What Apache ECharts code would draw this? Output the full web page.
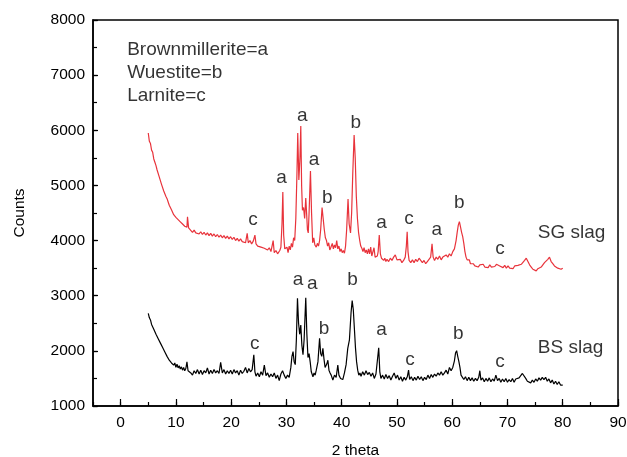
<!DOCTYPE html>
<html>
<head>
<meta charset="utf-8">
<script src="https://cdn.jsdelivr.net/npm/echarts@6/dist/echarts.min.js"></script>
<style>html,body{margin:0;padding:0;background:#fff}#c{width:627px;height:457px}</style>
</head>
<body>
<div id="c"></div>
<script>
var xTicks = [0, 10, 20, 30, 40, 50, 60, 70, 80, 90];
var yTicks = [1000, 2000, 3000, 4000, 5000, 6000, 7000, 8000];

var sgData = [
[5.0,5950],[5.2,5800],[5.4,5760],[5.6,5640],[5.8,5600],[6.0,5480],[6.2,5420],[6.4,5360],[6.6,5280],[6.8,5250],
[7.0,5150],[7.2,5120],[7.4,5020],[7.6,4990],[7.8,4900],[8.0,4880],[8.2,4800],[8.4,4760],[8.6,4700],[8.8,4640],
[9.0,4610],[9.2,4560],[9.4,4540],[9.6,4470],[9.8,4480],[10.0,4420],[10.2,4440],[10.4,4380],[10.6,4400],[10.8,4340],
[11.0,4350],[11.2,4300],[11.4,4320],[11.6,4260],[11.8,4280],[12.0,4240],[12.1,4430],[12.3,4230],[12.6,4200],
[13.0,4150],[13.3,4190],[13.6,4140],[13.9,4170],[14.2,4120],[14.5,4160],[14.8,4110],[15.1,4150],[15.4,4100],[15.7,4140],
[16.0,4090],[16.3,4130],[16.6,4080],[16.9,4120],[17.2,4070],[17.5,4110],[17.8,4060],[18.1,4100],[18.4,4050],[18.7,4090],
[19.0,4040],[19.3,4080],[19.6,4030],[19.9,4070],[20.2,4020],[20.5,4060],[20.8,4000],[21.1,4040],[21.4,3990],[21.7,4030],
[22.0,3980],[22.3,4010],[22.6,3960],[22.9,4130],[23.1,3960],[23.4,4000],[23.7,3940],[24.0,3990],[24.3,4100],[24.5,3940],
[24.8,3900],[25.1,3930],[25.4,3880],[25.7,3910],[26.0,3860],[26.3,3890],[26.6,3830],[26.9,3870],[27.2,3800],[27.6,4000],
[27.8,3780],[28.1,3820],[28.4,3760],[28.8,3820],[29.0,3880],[29.2,4300],[29.35,4880],[29.5,4100],[29.7,3850],[29.9,3820],
[30.1,3880],[30.3,3780],[30.5,3900],[30.7,3830],[30.9,3950],[31.1,3880],[31.3,4050],[31.5,4000],[31.7,4400],[31.9,5200],
[32.05,5950],[32.25,5100],[32.45,5500],[32.6,6078],[32.75,5000],[32.9,4550],[33.1,4600],[33.3,4400],[33.5,4770],[33.65,4500],
[33.8,4200],[33.95,4140],[34.1,4500],[34.35,5260],[34.55,4500],[34.75,3960],[34.95,4050],[35.15,3920],[35.4,3880],[35.6,3950],
[35.8,3900],[36.0,4000],[36.2,4200],[36.45,4600],[36.65,4400],[36.85,4200],[37.05,4050],[37.25,4000],[37.45,3900],[37.65,3960],
[37.85,3830],[38.05,3880],[38.3,3950],[38.5,3850],[38.7,3920],[38.9,3870],[39.1,4000],[39.3,3850],[39.5,3900],[39.7,3800],
[39.9,3850],[40.1,3780],[40.3,3820],[40.5,3770],[40.7,3900],[40.9,4200],[41.15,4754],[41.35,4300],[41.6,4140],[41.8,4500],
[42.0,5200],[42.25,5915],[42.45,5500],[42.65,4800],[42.85,4400],[43.05,4150],[43.25,4010],[43.45,3900],[43.65,3860],[43.85,3800],
[44.05,3870],[44.25,3780],[44.45,3830],[44.65,3760],[44.85,3850],[45.05,3760],[45.25,3880],[45.45,3720],[45.65,3700],[45.85,3870],
[46.05,3700],[46.25,3680],[46.45,3720],[46.6,3800],[46.8,4100],[47.0,3760],[47.2,3680],[47.4,3700],[47.6,3640],[47.8,3680],
[48.0,3620],[48.2,3660],[48.5,3620],[48.8,3680],[49.1,3640],[49.4,3700],[49.7,3740],[50.0,3650],[50.3,3620],[50.6,3660],
[50.9,3600],[51.2,3640],[51.5,3700],[51.7,3900],[51.85,4160],[52.0,3800],[52.2,3640],[52.5,3600],[52.8,3650],[53.1,3600],
[53.4,3660],[53.7,3620],[54.0,3680],[54.3,3700],[54.6,3600],[54.9,3640],[55.2,3580],[55.5,3620],[55.8,3600],[56.1,3700],
[56.35,3940],[56.55,3700],[56.8,3640],[57.1,3700],[57.4,3660],[57.7,3720],[58.0,3650],[58.3,3700],[58.6,3680],[58.9,3740],
[59.2,3700],[59.5,3760],[59.8,3720],[60.1,3800],[60.4,3850],[60.7,4000],[60.9,4150],[61.1,4280],[61.3,4343],[61.5,4250],
[61.7,4150],[61.9,4070],[62.1,3950],[62.3,3800],[62.5,3700],[62.7,3650],[62.9,3620],[63.1,3650],[63.3,3580],[63.5,3560],
[63.8,3580],[64.1,3540],[64.4,3560],[64.7,3520],[65.0,3560],[65.3,3530],[65.6,3570],[65.9,3520],[66.2,3550],[66.5,3510],
[66.8,3560],[67.1,3520],[67.4,3550],[67.7,3530],[68.0,3570],[68.3,3600],[68.6,3540],[68.9,3560],[69.2,3510],[69.5,3550],
[69.8,3500],[70.1,3540],[70.4,3500],[70.7,3530],[71.0,3490],[71.3,3540],[71.6,3510],[71.9,3550],[72.2,3530],[72.5,3570],
[72.8,3600],[73.1,3640],[73.4,3680],[73.7,3620],[74.0,3560],[74.3,3520],[74.6,3480],[74.9,3500],[75.2,3450],[75.5,3490],
[75.8,3460],[76.1,3520],[76.4,3560],[76.7,3600],[77.0,3620],[77.3,3660],[77.6,3700],[77.9,3620],[78.2,3580],[78.5,3540],
[78.8,3560],[79.1,3500],[79.4,3530],[79.7,3480],[80.0,3500]
];

var bsData = [
[5.0,2680],[5.2,2600],[5.4,2560],[5.6,2480],[5.8,2450],[6.0,2390],[6.2,2360],[6.4,2300],[6.6,2270],[6.8,2220],
[7.0,2200],[7.2,2140],[7.4,2110],[7.6,2060],[7.8,2030],[8.0,1980],[8.2,1960],[8.4,1900],[8.6,1880],[8.8,1830],
[9.0,1840],[9.2,1780],[9.4,1800],[9.6,1740],[9.8,1780],[10.0,1700],[10.2,1760],[10.4,1690],[10.6,1730],[10.8,1670],
[11.0,1710],[11.2,1650],[11.4,1700],[11.6,1640],[11.8,1680],[12.0,1800],[12.2,1640],[12.4,1660],[12.7,1600],[13.0,1560],
[13.3,1640],[13.6,1590],[13.9,1660],[14.2,1580],[14.5,1650],[14.8,1570],[15.1,1640],[15.4,1600],[15.7,1690],[16.0,1580],
[16.3,1650],[16.6,1590],[16.9,1660],[17.2,1600],[17.5,1640],[17.8,1590],[18.1,1790],[18.4,1600],[18.7,1660],[19.0,1580],
[19.3,1640],[19.6,1590],[19.9,1650],[20.2,1580],[20.5,1660],[20.8,1600],[21.1,1640],[21.4,1560],[21.7,1650],[22.0,1590],
[22.3,1630],[22.6,1700],[22.9,1600],[23.2,1680],[23.5,1620],[23.8,1660],[24.1,1930],[24.3,1620],[24.5,1540],[24.8,1600],
[25.1,1530],[25.4,1620],[25.7,1560],[26.0,1740],[26.3,1550],[26.6,1600],[26.9,1520],[27.2,1580],[27.5,1530],[27.8,1600],
[28.1,1500],[28.4,1560],[28.7,1460],[29.0,1580],[29.3,1640],[29.6,1560],[29.9,1500],[30.2,1560],[30.5,1520],[30.8,1700],
[31.0,1900],[31.2,1985],[31.4,1800],[31.6,1750],[31.8,2200],[32.0,2953],[32.2,2500],[32.4,2300],[32.6,2469],[32.8,2100],
[33.0,1930],[33.2,2200],[33.5,2964],[33.7,2300],[33.9,1880],[34.1,1950],[34.3,1800],[34.5,1620],[34.8,1531],[35.0,1600],
[35.2,1560],[35.4,1650],[35.7,1800],[36.0,2227],[36.2,1950],[36.4,1900],[36.6,2046],[36.8,1850],[37.0,1700],[37.3,1760],
[37.5,1830],[37.7,1650],[37.9,1600],[38.1,1560],[38.4,1471],[38.7,1560],[39.0,1520],[39.3,1743],[39.5,1560],[39.8,1500],
[40.0,1530],[40.2,1480],[40.5,1600],[40.8,1750],[41.1,2046],[41.4,2200],[41.7,2700],[41.9,2910],[42.1,2750],[42.3,2400],
[42.5,2050],[42.7,1800],[42.9,1650],[43.1,1560],[43.3,1600],[43.5,1540],[43.8,1620],[44.1,1560],[44.4,1640],[44.7,1570],
[45.0,1610],[45.3,1540],[45.6,1600],[45.9,1500],[46.2,1580],[46.5,1600],[46.7,2057],[46.9,1620],[47.1,1500],[47.4,1560],
[47.7,1490],[48.0,1570],[48.3,1500],[48.6,1550],[48.9,1470],[49.2,1540],[49.5,1600],[49.8,1500],[50.1,1560],[50.4,1470],
[50.7,1530],[51.0,1450],[51.3,1520],[51.6,1470],[51.9,1540],[52.1,1650],[52.3,1480],[52.6,1530],[52.9,1460],[53.2,1520],
[53.5,1470],[53.8,1540],[54.1,1480],[54.4,1530],[54.7,1460],[55.0,1520],[55.3,1480],[55.6,1560],[55.9,1500],[56.2,1570],
[56.5,1520],[56.8,1580],[57.1,1540],[57.4,1600],[57.7,1560],[58.0,1620],[58.3,1560],[58.6,1600],[58.9,1650],[59.2,1580],
[59.5,1700],[59.8,1640],[60.1,1700],[60.4,1820],[60.6,1960],[60.8,2003],[61.0,1900],[61.2,1810],[61.4,1700],[61.6,1560],
[61.8,1530],[62.1,1480],[62.4,1530],[62.7,1460],[63.0,1520],[63.3,1460],[63.6,1510],[63.9,1450],[64.2,1500],[64.5,1460],
[64.8,1520],[65.0,1640],[65.2,1470],[65.5,1510],[65.8,1440],[66.1,1500],[66.4,1450],[66.7,1510],[67.0,1440],[67.3,1490],
[67.6,1450],[67.9,1560],[68.2,1460],[68.5,1500],[68.8,1430],[69.1,1490],[69.4,1440],[69.7,1500],[70.0,1430],[70.3,1480],
[70.6,1440],[70.9,1500],[71.2,1430],[71.5,1490],[71.8,1460],[72.1,1510],[72.4,1540],[72.7,1590],[73.0,1560],[73.3,1500],
[73.6,1450],[73.9,1480],[74.2,1420],[74.5,1470],[74.8,1430],[75.1,1490],[75.4,1450],[75.7,1510],[76.0,1470],[76.3,1520],
[76.6,1480],[76.9,1520],[77.2,1450],[77.5,1490],[77.8,1420],[78.1,1470],[78.4,1400],[78.7,1450],[79.0,1390],[79.3,1440],
[79.6,1380],[80.0,1380]
];

var peakLabels = [
[23.97,4373,'c'],[29.1,5148,'a'],[32.85,6265,'a'],[35.0,5474,'a'],[37.4,4778,'b'],[42.57,6145,'b'],
[47.2,4331,'a'],[52.2,4391,'c'],[57.2,4192,'a'],[61.3,4687,'b'],[68.66,3847,'c'],
[24.28,2137,'c'],[32.1,3285,'a'],[34.66,3225,'a'],[36.8,2396,'b'],[41.97,3285,'b'],[47.2,2378,'a'],
[52.35,1847,'c'],[61.1,2318,'b'],[68.66,1803,'c']
];
var noteLabels = [
[1.09,7456,'Brownmillerite=a'],[1.09,7039,'Wuestite=b'],[1.09,6622,'Larnite=c'],
[75.4,4150,'SG slag'],[75.4,2064,'BS slag']
];

var FONT = '"Liberation Sans", Arial, sans-serif';
var chart = echarts.init(document.getElementById('c'), null, {renderer: 'canvas'});
chart.setOption({
  animation: false,
  backgroundColor: '#fff',
  grid: {left: 93, right: 9, top: 20, bottom: 51, outerBoundsMode: 'none', containLabel: false,
    show: true, borderColor: '#000', borderWidth: 1.5, backgroundColor: 'transparent'},
  xAxis: [{
    type: 'value', min: -5, max: 90, interval: 5,
    name: '2 theta', nameLocation: 'middle', nameGap: 37,
    nameTextStyle: {fontFamily: FONT, fontSize: 15.5, color: '#000'},
    axisLine: {show: true, onZero: false, lineStyle: {color: '#000', width: 1.5}},
    axisTick: {show: true, inside: true, length: 7, lineStyle: {color: '#000', width: 1.2}, customValues: xTicks},
    axisLabel: {fontFamily: FONT, fontSize: 15.5, color: '#000', margin: 9, customValues: xTicks},
    splitLine: {show: false}
  }, {
    type: 'value', min: -5, max: 90, interval: 5, position: 'bottom',
    axisLine: {show: false, onZero: false},
    axisTick: {show: true, inside: true, length: 4, lineStyle: {color: '#000', width: 1.2}},
    axisLabel: {show: false},
    splitLine: {show: false}
  }],
  yAxis: [{
    type: 'value', min: 1000, max: 8000, interval: 1000,
    name: 'Counts', nameLocation: 'middle', nameGap: 65, nameRotate: 90,
    nameTextStyle: {fontFamily: FONT, fontSize: 15.5, color: '#000'},
    axisLine: {show: true, onZero: false, lineStyle: {color: '#000', width: 1.5}},
    axisTick: {show: true, inside: true, length: 5, lineStyle: {color: '#000', width: 1.2}},
    axisLabel: {fontFamily: FONT, fontSize: 15.5, color: '#000', margin: 8, customValues: yTicks,
      formatter: function (v) { return String(v); }},
    splitLine: {show: false}
  }, {
    type: 'value', min: 1000, max: 8000, interval: 500, position: 'left',
    axisLine: {show: false, onZero: false},
    axisTick: {show: true, inside: true, length: 4, lineStyle: {color: '#000', width: 1.2}},
    axisLabel: {show: false},
    splitLine: {show: false}
  }],
  series: [{
    type: 'line', name: 'SG slag', data: sgData, showSymbol: false, symbol: 'none',
    lineStyle: {color: '#e8333b', width: 1.2}, z: 3, silent: true
  }, {
    type: 'line', name: 'BS slag', data: bsData, showSymbol: false, symbol: 'none',
    lineStyle: {color: '#000', width: 1.2}, z: 3, silent: true
  }, {
    type: 'scatter', data: peakLabels, symbolSize: 1, itemStyle: {color: 'rgba(0,0,0,0)'}, silent: true,
    label: {show: true, position: 'inside', color: '#000', fontFamily: FONT, fontSize: 19,
      textBorderWidth: 0, formatter: function (p) { return p.value[2]; }}
  }, {
    type: 'scatter', data: noteLabels, symbolSize: 1, itemStyle: {color: 'rgba(0,0,0,0)'}, silent: true,
    label: {show: true, position: 'right', distance: 0, color: '#000', fontFamily: FONT, fontSize: 19,
      textBorderWidth: 0, formatter: function (p) { return p.value[2]; }}
  }]
});
</script>
</body>
</html>
